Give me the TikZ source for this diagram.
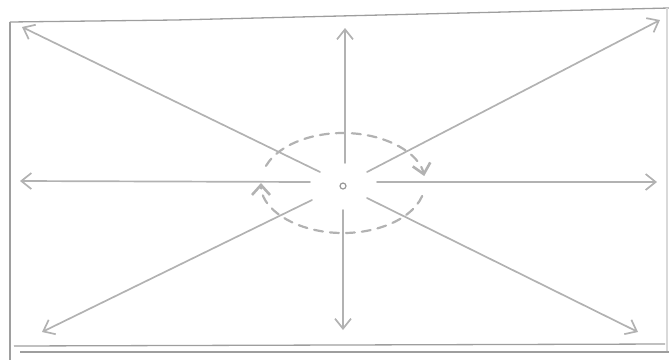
\documentclass[tikz,border=0pt]{standalone}
\usetikzlibrary{arrows.meta}
\begin{document}
\begin{tikzpicture}[x=1pt,y=-1pt,
  pen/.style={draw=black!30, line width=1.7pt, line cap=round},
  ray/.style={pen, -{Straight Barb[length=10pt,width=16pt,line width=1.7pt]}},
  frame/.style={draw=black!38, line width=1.3pt},
  spin/.style={pen, line width=2.2pt, dash pattern=on 9pt off 7pt, -{Straight Barb[length=10pt,width=18pt,line width=2.6pt]}}]
\useasboundingbox (0,0) rectangle (669,360);
% frame
\draw[frame] (10,22) -- (175,20) -- (669,8);
\draw[frame] (10,22) -- (10,360);
\draw[frame, draw=black!15] (667,8) -- (667,352);
\draw[frame] (14,346) -- (665,344);
\draw[frame] (20,352) -- (669,352);
% centre
\node[draw=black!40, circle, line width=1.2pt, inner sep=0pt, minimum size=6pt] (c) at (343,186) {};
% ray start/end points
\coordinate (su) at (345,163); \coordinate (eu) at (345,28);
\coordinate (sd) at (343,210); \coordinate (ed) at (343,330);
\coordinate (sl) at (310,182); \coordinate (el) at (20,181);
\coordinate (sr) at (377,182); \coordinate (er) at (657,182);
\coordinate (sul) at (320,172); \coordinate (eul) at (22,27);
\coordinate (sur) at (367,172); \coordinate (eur) at (660,20);
\coordinate (sll) at (312,200); \coordinate (ell) at (42,332);
\coordinate (slr) at (367,198); \coordinate (elr) at (638,332);
\draw[ray] (su) -- (eu);
\draw[ray] (sd) -- (ed);
\draw[ray] (sl) -- (el);
\draw[ray] (sr) -- (er);
\draw[ray] (sul) -- (eul);
\draw[ray] (sur) -- (eur);
\draw[ray] (sll) -- (ell);
\draw[ray] (slr) -- (elr);
% rotation ellipse
\coordinate (o) at (343,183);
\draw[spin] ([shift={(200:82 and 50)}]o) arc[start angle=200, end angle=352, x radius=82, y radius=50];
\draw[spin] ([shift={(15:82 and 50)}]o) arc[start angle=15, end angle=180, x radius=82, y radius=50];
\end{tikzpicture}
\end{document}
